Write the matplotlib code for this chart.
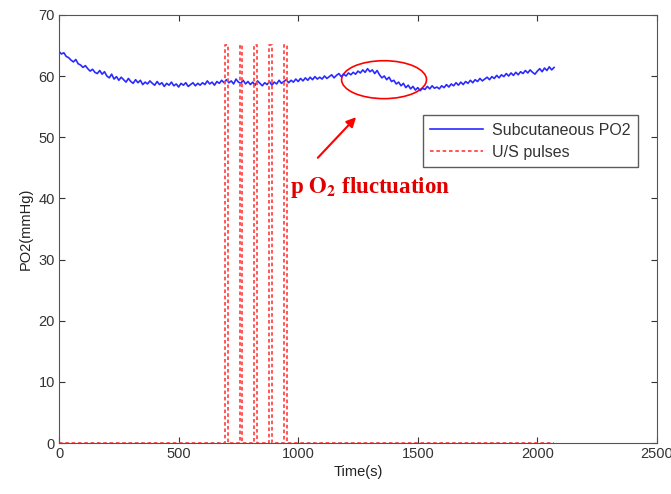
import matplotlib
matplotlib.use("Agg")
import matplotlib.pyplot as plt
from matplotlib.patches import Ellipse

plt.rcParams['font.family'] = ['Liberation Sans', 'DejaVu Sans']
plt.rcParams['mathtext.fontset'] = 'stix'

# Subcutaneous PO2 trace, 10 s spacing
time_s = list(range(0, 2071, 10))
po2 = [64.0, 63.6, 63.8, 63.2, 63.0, 62.6, 62.3, 62.7, 62.0, 61.8,
       61.4, 61.7, 61.2, 60.8, 61.1, 60.6, 60.4, 60.9, 60.3, 60.7,
       60.0, 59.7, 60.3, 59.5, 59.9, 59.3, 59.8, 59.4, 59.0, 59.6,
       59.1, 58.8, 59.4, 58.9, 59.3, 58.6, 59.0, 58.7, 59.2, 58.8,
       58.5, 59.1, 58.6, 58.9, 58.3, 58.8, 58.5, 59.0, 58.4, 58.7,
       58.2, 58.8, 58.5, 58.9, 58.3, 58.6, 58.9, 58.4, 58.8, 58.5,
       58.9, 58.6, 59.2, 58.7, 59.0, 58.5, 59.1, 58.8, 59.3, 58.9,
       59.4, 58.9, 59.2, 58.7, 59.5, 59.0, 58.8, 59.3, 58.7, 59.1,
       58.6, 59.0, 58.5, 59.2, 58.8, 58.4, 58.9, 58.6, 59.1, 58.5,
       59.0, 58.7, 59.3, 58.8, 59.1, 59.4, 58.9, 59.3, 59.0, 59.5,
       59.1, 59.6, 59.2, 59.7, 59.3, 59.8, 59.4, 59.9, 59.5, 59.8,
       59.5, 60.0, 59.6, 59.9, 60.2, 59.7, 60.1, 60.4, 59.9, 60.3,
       60.0, 60.5, 60.2, 60.6, 60.3, 60.8, 60.5, 61.0, 60.6, 61.2,
       60.7, 61.0, 60.4, 60.9, 60.2, 59.7, 60.0, 59.4, 59.8, 59.1,
       59.3, 58.7, 59.0, 58.4, 58.8, 58.1, 58.5, 57.9, 58.3, 57.7,
       58.1, 57.6, 58.0, 57.8, 58.3, 57.9, 58.4, 58.0, 58.2, 57.9,
       58.4, 58.1, 58.6, 58.2, 58.7, 58.4, 58.9, 58.5, 59.0, 58.6,
       59.1, 58.8, 59.3, 58.9, 59.4, 59.1, 59.6, 59.2, 59.5, 59.8,
       59.4, 59.9, 59.6, 60.1, 59.7, 60.2, 59.9, 60.4, 60.0, 60.5,
       60.1, 60.6, 60.2, 60.7, 60.4, 60.9, 60.5, 61.0, 60.6, 60.3,
       60.8, 61.2, 60.7, 61.3, 60.9, 61.5, 61.0, 61.4]

# U/S pulses
pulse_starts = [695, 755, 815, 878, 940]
pulse_width = 12
pulse_height = 65
pulse_end_time = 2070

px, py = [0], [0]
for s in pulse_starts:
    px += [s, s, s + pulse_width, s + pulse_width]
    py += [0, pulse_height, pulse_height, 0]
px.append(pulse_end_time)
py.append(0)

fig = plt.figure(figsize=(6.71, 4.94), dpi=100)
ax = fig.add_axes([0.088, 0.103, 0.891, 0.867])

ax.plot(time_s, po2, color='#2a2aff', lw=1.2, label='Subcutaneous PO2')
ax.plot(px, py, color='#ff4a4a', lw=1.3, linestyle=(0, (2, 1.5)), label='U/S pulses')

ax.set_xlim(0, 2500)
ax.set_ylim(0, 70)
ax.set_xticks(range(0, 2501, 500))
ax.set_yticks(range(0, 71, 10))
ax.tick_params(direction='in', top=True, right=True, labelsize=10.5, length=4,
               colors='#333333', pad=3)
for sp in ax.spines.values():
    sp.set_color('#555555')
ax.set_xlabel('Time(s)', fontsize=10.5, labelpad=3, color='#222222')
ax.set_ylabel('PO2(mmHg)', fontsize=10.5, labelpad=4, color='#222222')

leg = ax.legend(loc='upper right', bbox_to_anchor=(0.981, 0.784), fontsize=11.5,
                frameon=True, fancybox=False, edgecolor='#333333', handlelength=3.3,
                borderpad=0.45, labelspacing=0.45, handletextpad=0.55,
                borderaxespad=0.5)
leg.get_frame().set_linewidth(1.0)
for t in leg.get_texts():
    t.set_color('#333333')

ax.add_patch(Ellipse((1359, 59.4), 355, 6.2, fill=False, edgecolor='red', lw=1.2))
ax.annotate('', xy=(1250, 53.6), xytext=(1074, 46.3),
            arrowprops=dict(arrowstyle='-|>', color='red', lw=1.5, mutation_scale=14))
ax.text(966, 41.7, r'p $\mathbf{O_2}$ fluctuation', color='#e00000', fontsize=16.5,
        fontweight='bold', family=['Liberation Serif', 'DejaVu Serif'], va='center', ha='left')

fig.savefig('out.png', dpi=100)
